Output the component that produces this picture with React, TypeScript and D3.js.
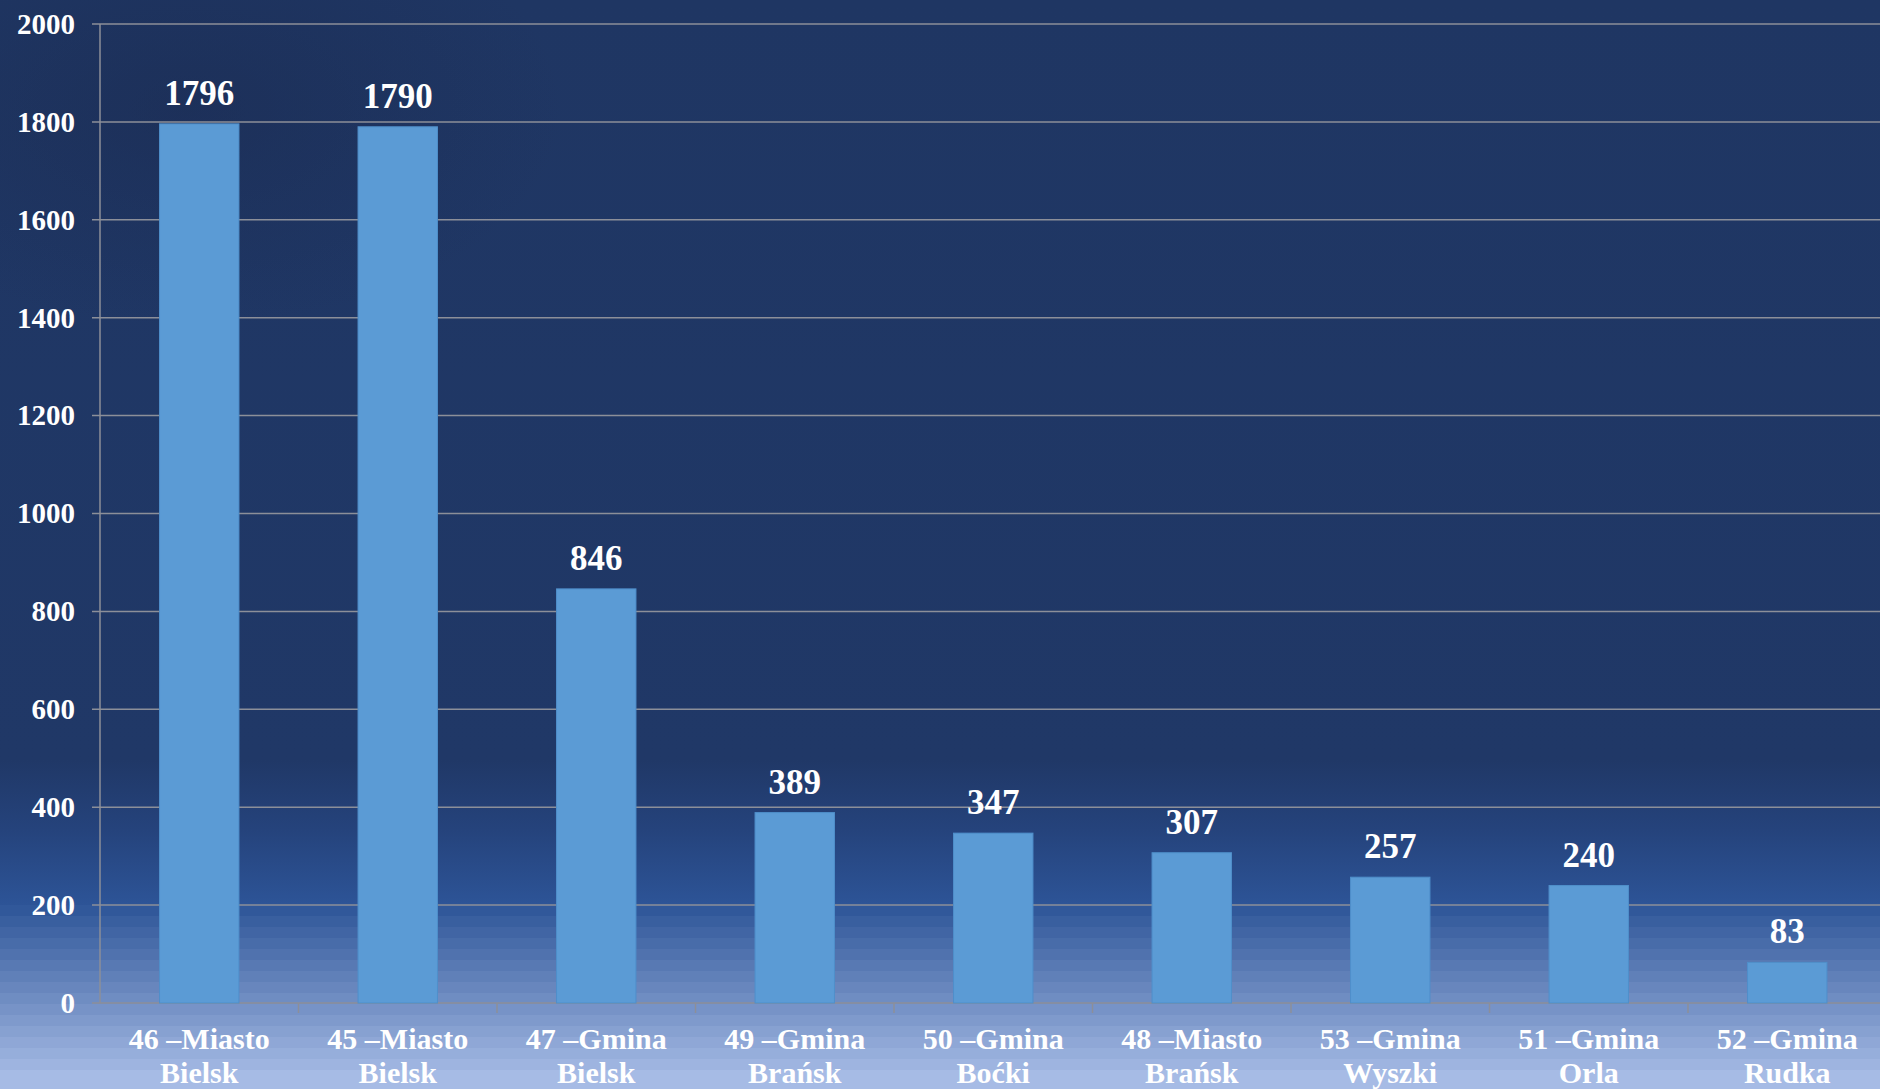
import { useEffect, useRef } from "react";
import * as d3 from "d3";

const categories = [
  ["46 –Miasto", "Bielsk"],
  ["45 –Miasto", "Bielsk"],
  ["47 –Gmina", "Bielsk"],
  ["49 –Gmina", "Brańsk"],
  ["50 –Gmina", "Boćki"],
  ["48 –Miasto", "Brańsk"],
  ["53 –Gmina", "Wyszki"],
  ["51 –Gmina", "Orla"],
  ["52 –Gmina", "Rudka"],
];
const values = [1796, 1790, 846, 389, 347, 307, 257, 240, 83];
const yTicks = [0, 200, 400, 600, 800, 1000, 1200, 1400, 1600, 1800, 2000];

const App = () => {
  const chartRef = useRef<SVGSVGElement>(null);

  useEffect(() => {
    const width = 1880;
    const height = 1089;
    const left = 100;
    const right = 1886.5;
    const top = 24;
    const bottom = 1003;
    const font = "'Liberation Serif', 'DejaVu Serif', serif";

    const svg = d3.select(chartRef.current);
    svg.selectAll("*").remove();

    const defs = svg.append("defs");
    const bg = defs
      .append("linearGradient")
      .attr("id", "bg")
      .attr("gradientUnits", "userSpaceOnUse")
      .attr("x1", 0)
      .attr("y1", 0)
      .attr("x2", 0)
      .attr("y2", height);
    // smooth dark part
    [
      [0, "#1f3663"],
      [760, "#203867"],
      [830, "#25437c"],
      [905, "#2d5497"],
    ].forEach(([o, c]) => {
      bg.append("stop").attr("offset", (o as number) / height).attr("stop-color", c);
    });
    // banded lighter part toward the bottom (like the original fill)
    const bandCol = d3.interpolateRgb("#31589a", "#a6bbe5");
    const bandEdges = d3.range(905, height + 1, 11);
    bandEdges.slice(0, -1).forEach((y0, i) => {
      const c = bandCol(i / (bandEdges.length - 2));
      bg.append("stop").attr("offset", y0 / height).attr("stop-color", c);
      bg.append("stop").attr("offset", bandEdges[i + 1] / height).attr("stop-color", c);
    });

    const glow = defs
      .append("radialGradient")
      .attr("id", "glow")
      .attr("cx", 0.1)
      .attr("cy", 0.1)
      .attr("r", 0.2);
    glow.append("stop").attr("offset", 0).attr("stop-color", "#1a2a50").attr("stop-opacity", 0.5);
    glow.append("stop").attr("offset", 1).attr("stop-color", "#1a2a50").attr("stop-opacity", 0);

    svg.append("rect").attr("width", width).attr("height", height).attr("fill", "url(#bg)");
    svg.append("rect").attr("width", width).attr("height", height).attr("fill", "url(#glow)");

    const x = d3
      .scaleBand<number>()
      .domain(d3.range(values.length))
      .range([left, right])
      .padding(0);

    const y = d3.scaleLinear().domain([0, 2000]).range([bottom, top]);

    const barW = x.bandwidth() * 0.4;

    // gridlines + y ticks
    svg
      .append("g")
      .selectAll("line")
      .data(yTicks)
      .join("line")
      .attr("x1", left - 8)
      .attr("x2", width)
      .attr("y1", (d) => y(d))
      .attr("y2", (d) => y(d))
      .attr("stroke", "#8c8f99")
      .attr("stroke-width", 1.5);

    svg
      .append("g")
      .selectAll("text")
      .data(yTicks)
      .join("text")
      .attr("x", 75)
      .attr("y", (d) => y(d))
      .attr("dy", "0.34em")
      .attr("text-anchor", "end")
      .attr("fill", "#fff")
      .attr("font-family", font)
      .attr("font-weight", "bold")
      .attr("font-size", 29)
      .text((d) => d);

    // y axis line
    svg
      .append("line")
      .attr("x1", left)
      .attr("x2", left)
      .attr("y1", y(2000))
      .attr("y2", bottom)
      .attr("stroke", "#8c8f99")
      .attr("stroke-width", 1.5);

    // x ticks between categories
    svg
      .append("g")
      .selectAll("line")
      .data(d3.range(values.length))
      .join("line")
      .attr("x1", (d) => x(d)! + x.bandwidth())
      .attr("x2", (d) => x(d)! + x.bandwidth())
      .attr("y1", bottom)
      .attr("y2", bottom + 10)
      .attr("stroke", "#8c8f99")
      .attr("stroke-width", 1.5);

    // bars
    svg
      .append("g")
      .selectAll("rect")
      .data(values)
      .join("rect")
      .attr("x", (_, i) => x(i)! + (x.bandwidth() - barW) / 2)
      .attr("y", (d) => y(d))
      .attr("width", barW)
      .attr("height", (d) => bottom - y(d))
      .attr("fill", "#5b9bd5")
      .attr("stroke", "#4f8fca")
      .attr("stroke-width", 1);

    // value labels
    svg
      .append("g")
      .selectAll("text")
      .data(values)
      .join("text")
      .attr("x", (_, i) => x(i)! + x.bandwidth() / 2)
      .attr("y", (d) => y(d) - 19)
      .attr("text-anchor", "middle")
      .attr("fill", "#fff")
      .attr("font-family", font)
      .attr("font-weight", "bold")
      .attr("font-size", 35)
      .text((d) => d);

    // category labels
    const cat = svg
      .append("g")
      .selectAll("text")
      .data(categories)
      .join("text")
      .attr("x", (_, i) => x(i)! + x.bandwidth() / 2)
      .attr("y", 1049)
      .attr("text-anchor", "middle")
      .attr("fill", "#fff")
      .attr("font-family", font)
      .attr("font-weight", "bold")
      .attr("font-size", 30);
    cat
      .selectAll("tspan")
      .data((d) => d)
      .join("tspan")
      .attr("x", function () {
        return (this.parentNode as SVGTextElement).getAttribute("x");
      })
      .attr("dy", (_, j) => (j === 0 ? 0 : 34))
      .text((d) => d);
  }, []);

  return (
    <svg
      ref={chartRef}
      width={1880}
      height={1089}
      style={{ position: "absolute", left: 0, top: 0, display: "block" }}
    />
  );
};

export default App;
